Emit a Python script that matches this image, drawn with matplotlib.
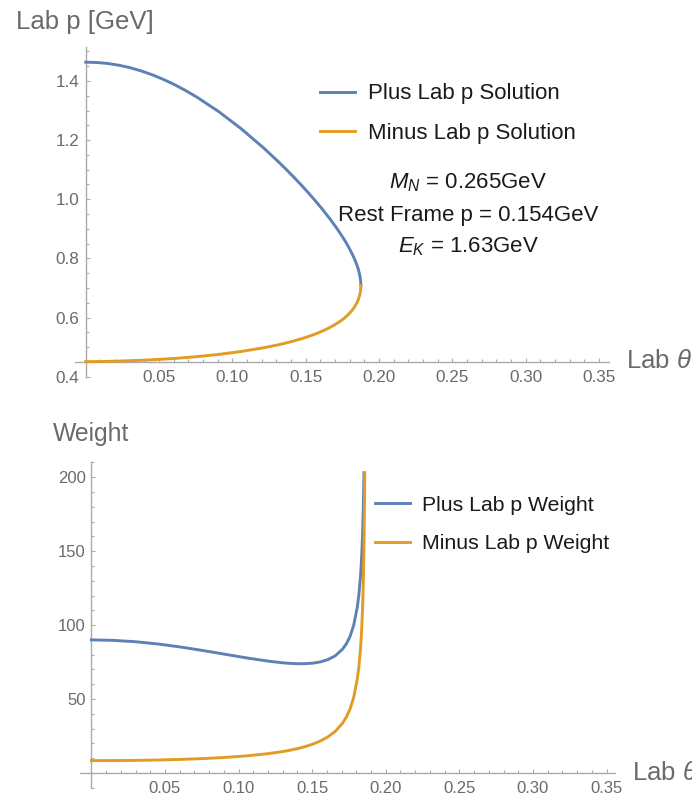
import matplotlib
matplotlib.use("Agg")
import matplotlib.pyplot as plt
from matplotlib.lines import Line2D
from matplotlib.ticker import FixedLocator, FixedFormatter

plt.rcParams['font.family'] = ['Liberation Sans', 'DejaVu Sans']
plt.rcParams['mathtext.fontset'] = 'custom'
plt.rcParams['mathtext.rm'] = 'Liberation Sans'
plt.rcParams['mathtext.it'] = 'Liberation Sans:italic'
plt.rcParams['mathtext.bf'] = 'Liberation Sans:bold'

# ---- lab momentum solutions vs lab angle ----
theta_p = [0.0, 0.00758, 0.01515, 0.02273, 0.0303, 0.03788, 0.04545, 0.05303, 0.0606,
           0.06818, 0.07575, 0.0909, 0.10605,
           0.1212, 0.1313, 0.13635, 0.1414, 0.14645, 0.1515, 0.15655, 0.1616, 0.16665,
           0.1717, 0.17423, 0.17675, 0.17928, 0.1818, 0.18281, 0.18382, 0.18483,
           0.18584, 0.18685, 0.18719, 0.18740, 0.18750, 0.18757, 0.18760]
p_plus = [1.4635, 1.4626, 1.4592, 1.4532, 1.4449, 1.4340, 1.4208, 1.4053, 1.3876,
          1.3676, 1.3456, 1.2958, 1.2384,
          1.1741, 1.1274, 1.1028, 1.0774, 1.0510, 1.0236, 0.9950, 0.9649, 0.9329,
          0.8984, 0.8794, 0.8601, 0.8381, 0.8141, 0.8033, 0.7917, 0.7788,
          0.7636, 0.7434, 0.7340, 0.7264, 0.7211, 0.7153, 0.7085]
p_minus = [0.4510, 0.4513, 0.4519, 0.4529, 0.4540, 0.4555, 0.4573, 0.4594, 0.4618,
           0.4647, 0.4678, 0.4755, 0.4853,
           0.4977, 0.5079, 0.5138, 0.5202, 0.5273, 0.5353, 0.5444, 0.5547, 0.5668,
           0.5815, 0.5899, 0.5998, 0.6114, 0.6255, 0.6323, 0.6400, 0.6491,
           0.6604, 0.6766, 0.6846, 0.6915, 0.6964, 0.7018, 0.7085]

# ---- weights vs lab angle ----
theta_w_plus = [0.0, 0.01506, 0.03012, 0.04518, 0.06024, 0.0753, 0.09036, 0.10542,
                0.12048, 0.13052, 0.13554, 0.14056, 0.14558, 0.1506, 0.15562, 0.16064,
                0.16566, 0.17068, 0.17319, 0.1757, 0.17821, 0.18072, 0.18172, 0.18273,
                0.18323, 0.18373, 0.18423, 0.18474, 0.18519]
w_plus = [89.98, 89.66, 88.72, 87.21, 85.21, 82.87, 80.33, 77.80,
          75.55, 74.42, 74.05, 73.85, 73.90, 74.27, 75.10, 76.62,
          79.22, 83.76, 87.27, 92.26, 99.88, 112.57, 120.44, 131.56,
          139.04, 148.53, 161.08, 178.93, 203.0]
theta_w_minus = [0.0, 0.01506, 0.03012, 0.04518, 0.06024, 0.0753, 0.09036, 0.10542,
                 0.12048, 0.13052, 0.13554, 0.14056, 0.14558, 0.1506, 0.15562, 0.16064,
                 0.16566, 0.17068, 0.17319, 0.1757, 0.17821, 0.18072, 0.18172, 0.18273,
                 0.18323, 0.18373, 0.18423, 0.18474, 0.18524, 0.18558, 0.18572]
w_minus = [8.30, 8.34, 8.49, 8.74, 9.13, 9.68, 10.44, 11.51,
           13.07, 14.54, 15.47, 16.56, 17.89, 19.53, 21.62, 24.34,
           28.11, 33.71, 37.75, 43.13, 51.08, 63.87, 71.74, 82.63,
           89.93, 99.18, 111.44, 128.66, 155.62, 185.8, 203.0]

x_major = [0.05, 0.10, 0.15, 0.20, 0.25, 0.30, 0.35]
x_major_labels = ["0.05", "0.10", "0.15", "0.20", "0.25", "0.30", "0.35"]
x_minor = [round(0.01 * i, 2) for i in range(0, 36)]
p_major = [0.4, 0.6, 0.8, 1.0, 1.2, 1.4]
p_major_labels = ["0.4", "0.6", "0.8", "1.0", "1.2", "1.4"]
p_minor = [round(0.4 + 0.05 * i, 2) for i in range(0, 23)]
w_major = [50, 100, 150, 200]
w_major_labels = ["50", "100", "150", "200"]
w_minor = list(range(-10, 211, 10))

labels_plot1 = ["Plus Lab p Solution", "Minus Lab p Solution"]
labels_plot2 = ["Plus Lab p Weight", "Minus Lab p Weight"]
notes = ["$M_N$ = 0.265GeV", "Rest Frame p = 0.154GeV", "$E_K$ = 1.63GeV"]

BLUE = "#5E81B5"
ORANGE = "#E19C24"
AXIS = "#ababab"
TICKTXT = "#6a6a6a"

W, H = 692, 797
fig = plt.figure(figsize=(W / 100, H / 100), dpi=100)


def fx(px):
    return px / W


def fy(py):
    return (H - py) / H


def style_axes(ax, y_cross, xmaj, xlab, ymaj, ylab, xmin, ymin, fs, ypad, xpad):
    for s in ("top", "right"):
        ax.spines[s].set_visible(False)
    ax.spines["left"].set_position(("data", 0.0))
    ax.spines["bottom"].set_position(("data", y_cross))
    for s in ("left", "bottom"):
        ax.spines[s].set_color(AXIS)
        ax.spines[s].set_linewidth(1.0)
    ax.xaxis.set_major_locator(FixedLocator(xmaj))
    ax.xaxis.set_major_formatter(FixedFormatter(xlab))
    ax.xaxis.set_minor_locator(FixedLocator(xmin))
    ax.yaxis.set_major_locator(FixedLocator(ymaj))
    ax.yaxis.set_major_formatter(FixedFormatter(ylab))
    ax.yaxis.set_minor_locator(FixedLocator(ymin))
    ax.tick_params(which="both", direction="in", color=AXIS, width=0.8)
    ax.tick_params(which="major", length=3.2, labelsize=fs, labelcolor=TICKTXT)
    ax.tick_params(which="minor", length=1.9)
    ax.tick_params(axis="y", which="major", pad=ypad)
    ax.tick_params(axis="x", which="major", pad=xpad)
    ax.patch.set_alpha(0)


# ---------------- top panel ----------------
ax1 = fig.add_axes([fx(75), fy(376.7), fx(609) - fx(75), fy(46.7) - fy(376.7)])
ax1.set_xlim(-0.0073, 0.3568)
ax1.set_ylim(0.4, 1.516)
ax1.plot(theta_p, p_plus, color=BLUE, lw=2.1, zorder=3, solid_joinstyle="round")
ax1.plot(theta_p, p_minus, color=ORANGE, lw=2.1, zorder=3, solid_joinstyle="round")
style_axes(ax1, p_minus[0], x_major, x_major_labels, p_major, p_major_labels,
           x_minor, p_minor, 12.3, 4.8, 6.3)

fig.text(fx(16), fy(29.3), "Lab p [GeV]", fontsize=18.5, color=TICKTXT, va="baseline")
fig.text(fx(626), fy(360.7), "Lab $\\theta$", fontsize=18.5, color=TICKTXT, va="center")

for i, (lab, col) in enumerate(zip(labels_plot1, [BLUE, ORANGE])):
    ly = 91.7 + 39.5 * i
    fig.add_artist(Line2D([fx(320), fx(355)], [fy(ly), fy(ly)], color=col, lw=2.1,
                          transform=fig.transFigure))
    fig.text(fx(368.3), fy(99 + 40 * i), lab, fontsize=16, color="#1a1a1a", va="baseline")

for i, t in enumerate(notes):
    fig.text(fx(468), fy(188.3 + 32.2 * i), t, fontsize=16, color="#1a1a1a",
             ha="center", va="baseline")

# ---------------- bottom panel ----------------
ax2 = fig.add_axes([fx(80), fy(788), fx(615) - fx(80), fy(461.7) - fy(788)])
ax2.set_xlim(-0.0077, 0.3557)
ax2.set_ylim(-10.2, 210.5)
ax2.plot(theta_w_plus, w_plus, color=BLUE, lw=2.1, zorder=3, solid_joinstyle="round")
ax2.plot(theta_w_minus, w_minus, color=ORANGE, lw=2.1, zorder=3, solid_joinstyle="round")
style_axes(ax2, 0.0, x_major, x_major_labels, w_major, w_major_labels,
           x_minor, w_minor, 12.0, 3.9, 6.0)

fig.text(fx(53), fy(440.7), "Weight", fontsize=17.8, color=TICKTXT, va="baseline")
fig.text(fx(632), fy(772.7), "Lab $\\theta$", fontsize=18.5, color=TICKTXT, va="center")

for i, (lab, col) in enumerate(zip(labels_plot2, [BLUE, ORANGE])):
    ly = 503.3 + 38.4 * i
    fig.add_artist(Line2D([fx(375), fx(410)], [fy(ly), fy(ly)], color=col, lw=2.1,
                          transform=fig.transFigure))
    fig.text(fx(421.7), fy(511 + 38.3 * i), lab, fontsize=15.3, color="#1a1a1a",
             va="baseline")

fig.savefig("out.png", dpi=100)
